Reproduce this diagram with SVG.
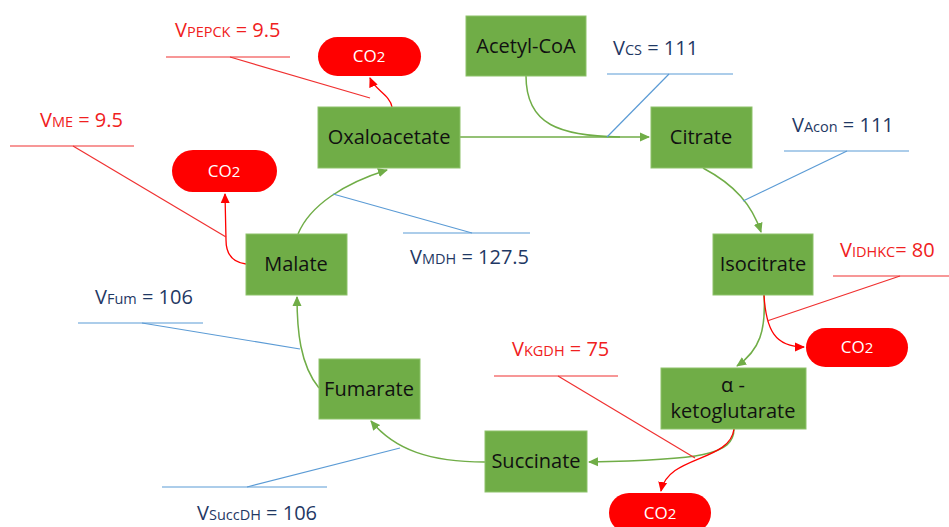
<svg xmlns="http://www.w3.org/2000/svg" width="949" height="527" viewBox="0 0 949 527">
<defs>
<marker id="ag" markerUnits="userSpaceOnUse" markerWidth="10" markerHeight="10" viewBox="0 0 10 10" refX="9" refY="5" orient="auto"><path d="M0,0.5 L10,5 L0,9.5 Z" fill="#70AD47"/></marker>
<marker id="ar" markerUnits="userSpaceOnUse" markerWidth="10" markerHeight="10" viewBox="0 0 10 10" refX="9" refY="5" orient="auto"><path d="M0,0.5 L10,5 L0,9.5 Z" fill="#FF0000"/></marker>
</defs>
<style>
.node rect{fill:#70AD47;stroke:#8DC26A;stroke-width:1}
.node text{font-family:"Open Sans","Liberation Sans",sans-serif;font-size:20px;fill:#111;text-anchor:middle}
.co2 rect{fill:#FF0000}
.co2 text{font-family:"Open Sans","Liberation Sans",sans-serif;font-size:17px;fill:#fff;text-anchor:middle}
.g{fill:none;stroke:#70AD47;stroke-width:1.5}
.r{fill:none;stroke:#FF0000;stroke-width:1.3}
.lb{fill:none;stroke:#5B9BD5;stroke-width:1.2}
.lr{fill:none;stroke:#F03030;stroke-width:1.2}
.tb{font-family:"Open Sans","Liberation Sans",sans-serif;font-size:20px;fill:#1F3864}
.tr{font-family:"Open Sans","Liberation Sans",sans-serif;font-size:20px;fill:#F02020}
.s{font-size:14.5px}
</style>
<rect width="949" height="527" fill="#fff"/>
<g id="connectors">
<path class="g" d="M460,137 L649,137" marker-end="url(#ag)"/>
<path class="g" d="M526,76 C526,125 560,136 620,137"/>
<path class="g" d="M703,168 C735,185 752,205 761,232" marker-end="url(#ag)"/>
<path class="g" d="M764,295 C766,330 760,350 737,366" marker-end="url(#ag)"/>
<path class="r" d="M764,295 C766,330 775,347 804,347" marker-end="url(#ar)"/>
<path class="g" d="M734,429 C734,455 700,460 589,462" marker-end="url(#ag)"/>
<path class="r" d="M734,429 C730,462 668,455 661,491" marker-end="url(#ar)"/>
<path class="g" d="M485,462 C430,462 395,450 371,421" marker-end="url(#ag)"/>
<path class="g" d="M319,388 C300,365 297,330 297,297" marker-end="url(#ag)"/>
<path class="g" d="M298,234 C310,205 345,183 387,170" marker-end="url(#ag)"/>
<path class="r" d="M246,264 C230,262 226,252 226,240 L225,194" marker-end="url(#ar)"/>
<path class="r" d="M392,107 C390,95 375,90 370,78" marker-end="url(#ar)"/>
<polyline class="lr" points="166,57 290,57"/><polyline class="lr" points="230,57 370,98"/>
<polyline class="lr" points="10,146 134,146"/><polyline class="lr" points="73,146 226,237"/>
<polyline class="lb" points="607,74 733,74"/><polyline class="lb" points="669,74 607,137"/>
<polyline class="lb" points="784,151 909,151"/><polyline class="lb" points="847,151 743,201"/>
<polyline class="lr" points="833,276 949,276"/><polyline class="lr" points="900,276 767,321"/>
<polyline class="lr" points="494,376 618,376"/><polyline class="lr" points="558,376 695,458"/>
<polyline class="lb" points="162,487 327,487"/><polyline class="lb" points="247,487 400,448"/>
<polyline class="lb" points="78,323 203,323"/><polyline class="lb" points="142,323 300,349"/>
<polyline class="lb" points="403,233 530,233"/><polyline class="lb" points="472,233 333,194"/>
</g>
<g id="acetylcoa" class="node"><rect x="466" y="16" width="120" height="60"/><text x="526" y="53">Acetyl-CoA</text></g>
<g id="oxaloacetate" class="node"><rect x="318" y="107" width="142" height="61"/><text x="389" y="144">Oxaloacetate</text></g>
<g id="citrate" class="node"><rect x="651" y="107" width="101" height="61"/><text x="701" y="144">Citrate</text></g>
<g id="isocitrate" class="node"><rect x="713" y="234" width="100" height="61"/><text x="763" y="271">Isocitrate</text></g>
<g id="akg" class="node"><rect x="661" y="368" width="145" height="61"/><text x="733" y="392">α -</text><text x="733" y="418">ketoglutarate</text></g>
<g id="succinate" class="node"><rect x="485" y="431" width="102" height="61"/><text x="536" y="468">Succinate</text></g>
<g id="fumarate" class="node"><rect x="319" y="359" width="101" height="60"/><text x="369" y="396">Fumarate</text></g>
<g id="malate" class="node"><rect x="246" y="234" width="101" height="61"/><text x="296" y="271">Malate</text></g>
<g id="co2_oxa" class="co2"><rect x="318" y="37" width="103" height="39" rx="19.5"/><text x="369" y="62">CO<tspan font-size="15">2</tspan></text></g>
<g id="co2_mal" class="co2"><rect x="172" y="150" width="105" height="42" rx="21"/><text x="224" y="177">CO<tspan font-size="15">2</tspan></text></g>
<g id="co2_iso" class="co2"><rect x="806" y="328" width="102" height="39" rx="19.5"/><text x="857" y="353">CO<tspan font-size="15">2</tspan></text></g>
<g id="co2_akg" class="co2"><rect x="609" y="493" width="102" height="40" rx="20"/><text x="660" y="519">CO<tspan font-size="15">2</tspan></text></g>
<g id="labels">
<text class="tr" x="175" y="37">V<tspan class="s">PEPCK</tspan> = 9.5</text>
<text class="tr" x="40" y="127">V<tspan class="s">ME</tspan> = 9.5</text>
<text class="tb" x="613" y="55">V<tspan class="s">CS</tspan> = 111</text>
<text class="tb" x="792" y="132">V<tspan class="s">Acon</tspan> = 111</text>
<text class="tr" x="840" y="257">V<tspan class="s">IDHKC</tspan>= 80</text>
<text class="tr" x="512" y="356">V<tspan class="s">KGDH</tspan> = 75</text>
<text class="tb" x="95" y="304">V<tspan class="s">Fum</tspan> = 106</text>
<text class="tb" x="410" y="264">V<tspan class="s">MDH</tspan> = 127.5</text>
<text class="tb" x="197" y="520">V<tspan class="s">SuccDH</tspan> = 106</text>
</g>
</svg>
